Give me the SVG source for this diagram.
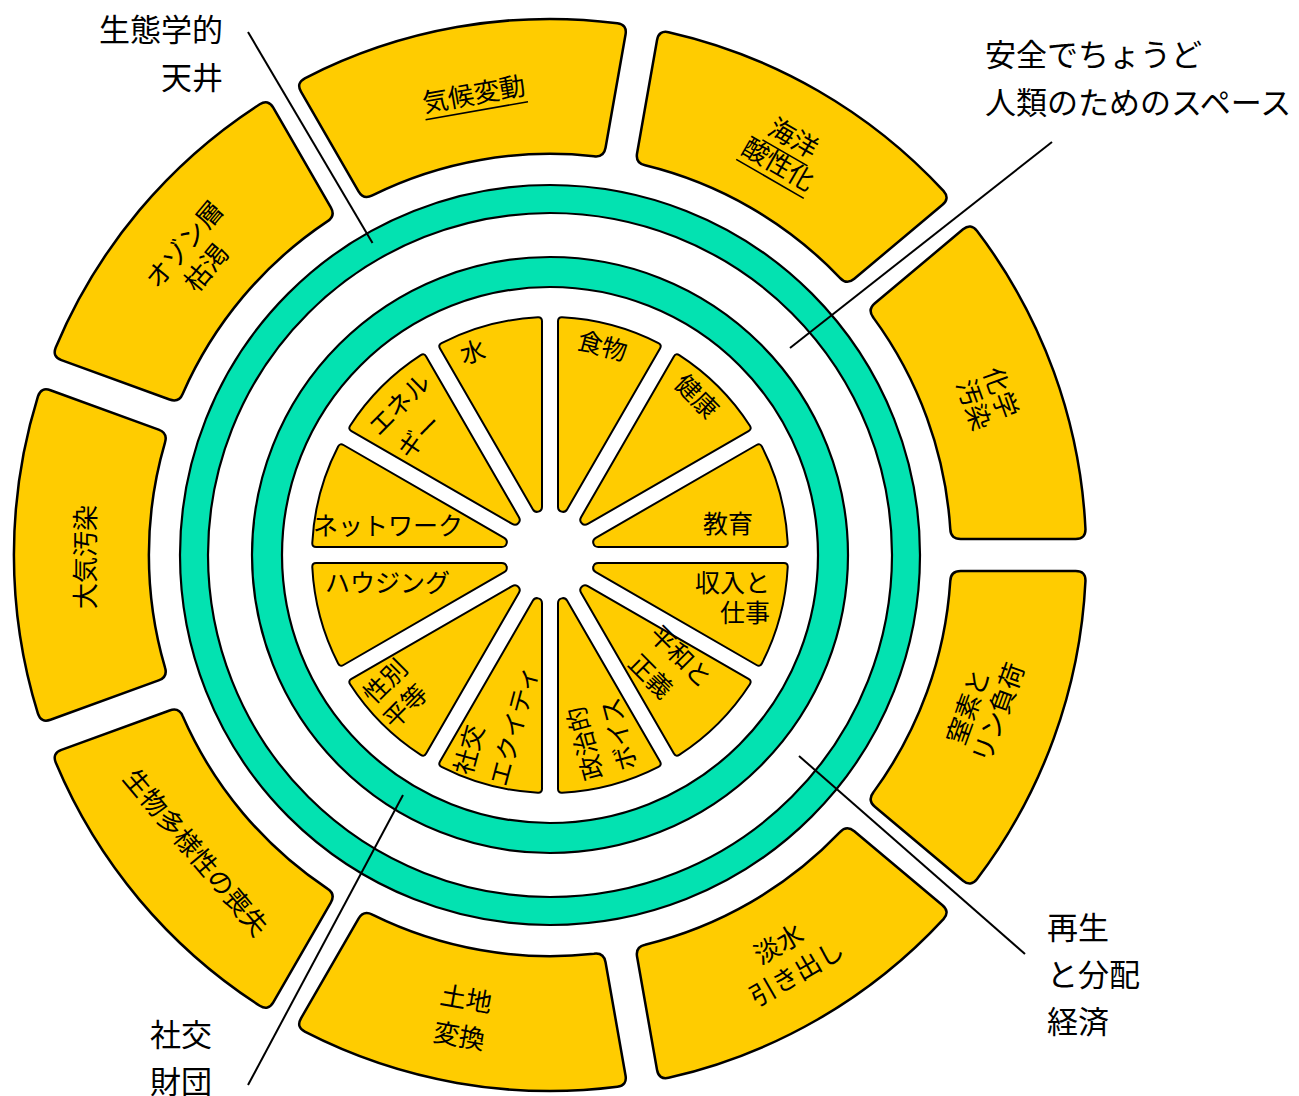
<svg xmlns="http://www.w3.org/2000/svg" width="1299" height="1096" viewBox="0 0 1299 1096">
<style>
.seg{fill:#FFCC00;stroke:#000;stroke-width:2.5;stroke-linejoin:round}
.wedge{fill:#FFCC00;stroke:#000;stroke-width:2;stroke-linejoin:round}
.ring{fill:#03E2B1;stroke:#000;stroke-width:2.2}
.hole{fill:#fff;stroke:#000;stroke-width:2.2}
text{font-family:"Noto Sans CJK JP","Noto Sans",sans-serif;fill:#000;dominant-baseline:central;text-anchor:middle}
.o{font-size:26px}
.i{font-size:25px}
.lab{font-size:31px}
.s{text-anchor:start}
.e{text-anchor:end}
.ul{stroke:#000;stroke-width:1.6}
#connectors line{stroke:#000;stroke-width:2}
</style>
<defs>
<path id="segshape" d="M -158.70,-512.06 A 536 536 0 0 1 158.70,-512.06 Q 168.20,-508.92 164.78,-499.52 L 125.42,-391.39 Q 122.0,-381.99 112.47,-385.03 A 401 401 0 0 0 -112.47,-385.03 Q -122.0,-381.99 -125.42,-391.39 L -164.78,-499.52 Q -168.20,-508.92 -158.70,-512.06 Z"/>
<path id="wedgeshape" d="M -49.93,-232.73 A 238 238 0 0 1 49.93,-232.73 Q 53.83,-231.83 52.79,-227.97 L 4.77,-48.70 Q 3.73,-44.84 0,-44.9 Q -3.73,-44.84 -4.77,-48.70 L -52.79,-227.97 Q -53.83,-231.83 -49.93,-232.73 Z"/>
</defs>
<rect width="1299" height="1096" fill="#fff"/>

<g id="ecological-ceiling">
<circle class="ring" cx="550" cy="555" r="370"/>
<circle class="hole" cx="550" cy="555" r="342"/>
</g>
<g id="social-foundation">
<circle class="ring" cx="550" cy="555" r="298"/>
<circle class="hole" cx="550" cy="555" r="268"/>
</g>

<g id="climate-change">
<use href="#segshape" class="seg" transform="translate(550,555) rotate(-10)"/>
<g transform="translate(474,95) rotate(-10)"><text class="o" dy="-3">気候変動</text><line class="ul" x1="-52" y1="16" x2="52" y2="16"/></g>
</g>
<g id="ocean-acidification">
<use href="#segshape" class="seg" transform="translate(550,555) rotate(30)"/>
<g transform="translate(793,139) rotate(30)"><text class="o" dy="-3">海洋</text><line class="ul" x1="-26" y1="16" x2="26" y2="16"/></g>
<g transform="translate(778,165) rotate(30)"><text class="o" dy="-3">酸性化</text><line class="ul" x1="-39" y1="16" x2="39" y2="16"/></g>
</g>
<g id="chemical-pollution">
<use href="#segshape" class="seg" transform="translate(550,555) rotate(70)"/>
<text class="o" dy="-3" transform="translate(1000,393) rotate(70)">化学</text>
<text class="o" dy="-3" transform="translate(973,405) rotate(70)">汚染</text>
</g>
<g id="nitrogen-phosphorus">
<use href="#segshape" class="seg" transform="translate(550,555) rotate(110)"/>
<text class="o" dy="-3" transform="translate(969,707) rotate(-70)">窒素と</text>
<text class="o" dy="-3" transform="translate(999,713) rotate(-70)">リン負荷</text>
</g>
<g id="freshwater">
<use href="#segshape" class="seg" transform="translate(550,555) rotate(150)"/>
<text class="o" dy="-3" transform="translate(779,945) rotate(-30)">淡水</text>
<text class="o" dy="-3" transform="translate(797,974) rotate(-30)">引き出し</text>
</g>
<g id="land-conversion">
<use href="#segshape" class="seg" transform="translate(550,555) rotate(190)"/>
<text class="o" dy="-3" transform="translate(466,1000) rotate(10)">土地</text>
<text class="o" dy="-3" transform="translate(459,1037) rotate(10)">変換</text>
</g>
<g id="biodiversity">
<use href="#segshape" class="seg" transform="translate(550,555) rotate(230)"/>
<text class="o" dy="-3" transform="translate(195,853) rotate(50)">生物多様性の喪失</text>
</g>
<g id="air-pollution">
<use href="#segshape" class="seg" transform="translate(550,555) rotate(270)"/>
<text class="o" dy="-3" transform="translate(86,557) rotate(-90)">大気汚染</text>
</g>
<g id="ozone">
<use href="#segshape" class="seg" transform="translate(550,555) rotate(310)"/>
<text class="o" dy="-3" transform="translate(185,245) rotate(-50)">オゾン層</text>
<text class="o" dy="-3" transform="translate(207,268) rotate(-50)">枯渇</text>
</g>

<g id="food">
<use href="#wedgeshape" class="wedge" transform="translate(550,555) rotate(15)"/>
<text class="i" dy="-3" transform="translate(602,347) rotate(15)">食物</text>
</g>
<g id="health">
<use href="#wedgeshape" class="wedge" transform="translate(550,555) rotate(45)"/>
<text class="i" dy="-3" transform="translate(696,397) rotate(45)">健康</text>
</g>
<g id="education">
<use href="#wedgeshape" class="wedge" transform="translate(550,555) rotate(75)"/>
<text class="i" x="728" y="522">教育</text>
</g>
<g id="income-work">
<use href="#wedgeshape" class="wedge" transform="translate(550,555) rotate(105)"/>
<text class="i e" x="770" y="581">収入と</text>
<text class="i e" x="770" y="611">仕事</text>
</g>
<g id="peace-justice">
<use href="#wedgeshape" class="wedge" transform="translate(550,555) rotate(135)"/>
<text class="i" dy="-3" transform="translate(680,657) rotate(45)">平和と</text>
<text class="i" dy="-3" transform="translate(650,677) rotate(45)">正義</text>
</g>
<g id="political-voice">
<use href="#wedgeshape" class="wedge" transform="translate(550,555) rotate(165)"/>
<text class="i" dy="-3" transform="translate(586,743) rotate(-105)">政治的</text>
<text class="i" dy="-3" transform="translate(620,734) rotate(-105)">ボイス</text>
</g>
<g id="social-equity">
<use href="#wedgeshape" class="wedge" transform="translate(550,555) rotate(195)"/>
<text class="i" dy="-3" transform="translate(470,750) rotate(-75)">社交</text>
<text class="i" dy="-3" transform="translate(515,726) rotate(-75)">エクイティ</text>
</g>
<g id="gender-equality">
<use href="#wedgeshape" class="wedge" transform="translate(550,555) rotate(225)"/>
<text class="i" dy="-3" transform="translate(386,682) rotate(-45)">性別</text>
<text class="i" dy="-3" transform="translate(406,707) rotate(-45)">平等</text>
</g>
<g id="housing">
<use href="#wedgeshape" class="wedge" transform="translate(550,555) rotate(255)"/>
<text class="i s" x="325" y="581">ハウジング</text>
</g>
<g id="networks">
<use href="#wedgeshape" class="wedge" transform="translate(550,555) rotate(285)"/>
<text class="i s" x="313" y="524">ネットワーク</text>
</g>
<g id="energy">
<use href="#wedgeshape" class="wedge" transform="translate(550,555) rotate(315)"/>
<text class="i" dy="-3" transform="translate(400,405) rotate(-45)">エネル</text>
<text class="i" dy="-3" transform="translate(420,437) rotate(-45)">ギー</text>
</g>
<g id="water">
<use href="#wedgeshape" class="wedge" transform="translate(550,555) rotate(345)"/>
<text class="i" dy="-3" transform="translate(473,353) rotate(-15)">水</text>
</g>

<g id="connectors">
<line x1="248" y1="32" x2="372.5" y2="243"/>
<line x1="1052" y1="142" x2="790" y2="348"/>
<line x1="1025" y1="954" x2="799" y2="756"/>
<line x1="248" y1="1085" x2="403" y2="795"/>
</g>

<g id="label-ceiling">
<text class="lab e" x="223" y="27">生態学的</text>
<text class="lab e" x="223" y="75">天井</text>
</g>
<g id="label-safe-space">
<text class="lab s" x="985" y="52">安全でちょうど</text>
<text class="lab s" x="985" y="100">人類のためのスペース</text>
</g>
<g id="label-economy">
<text class="lab s" x="1047" y="925">再生</text>
<text class="lab s" x="1047" y="972">と分配</text>
<text class="lab s" x="1047" y="1019">経済</text>
</g>
<g id="label-foundation">
<text class="lab s" x="150" y="1032">社交</text>
<text class="lab s" x="150" y="1079">財団</text>
</g>
</svg>
